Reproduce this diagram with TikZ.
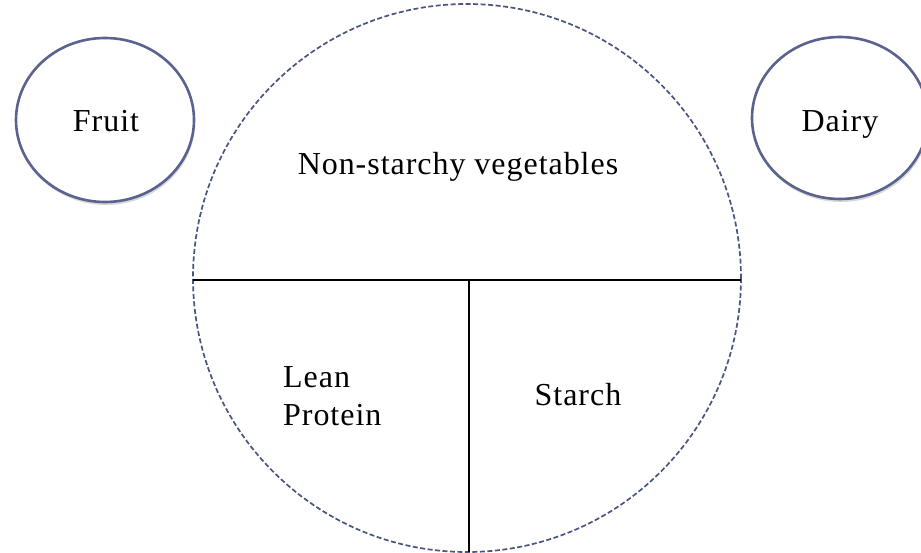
\documentclass[tikz,border=0pt]{standalone}
\usepackage{fontspec}
\setmainfont[LetterSpace=3]{Liberation Serif}
\usetikzlibrary{shadows}
\definecolor{dashblue}{HTML}{4A5580}
\definecolor{ringblue}{HTML}{5A6390}
\tikzset{
  sidecircle/.style={draw=ringblue, line width=2.6pt, fill=white,
    drop shadow={shadow xshift=1pt, shadow yshift=-3pt, opacity=0.3, fill=gray}},
  label/.style={font=\fontsize{32}{38}\selectfont, align=left, inner sep=0pt},
}
\begin{document}
\begin{tikzpicture}[x=1pt, y=-1pt]
  \clip (0,0) rectangle (921,553);
  \useasboundingbox (0,0) rectangle (921,553);
  \fill[white] (0,0) rectangle (921,553);
  % side circles
  \draw[sidecircle] (105,120) ellipse [x radius=89, y radius=82];
  \draw[sidecircle] (840,118) ellipse [x radius=88, y radius=81];
  \node[label, anchor=base] (fruit) at (106,132) {Fruit};
  \node[label, anchor=base] (dairy) at (840,132) {Dairy};
  % plate
  \coordinate (c) at (467,278);
  \draw[dashblue, line width=1.7pt, dash pattern=on 5pt off 2.5pt] (c) circle [radius=274];
  \coordinate (hl) at (193,280);
  \coordinate (hr) at (741,280);
  \coordinate (vt) at (469,280);
  \coordinate (vb) at (469,552);
  \draw[black, line width=1.8pt] (hl) -- (hr);
  \draw[black, line width=1.8pt] (vt) -- (vb);
  \node[label, anchor=base] (veg) at (458,175) {Non-starchy vegetables};
  \node[label, anchor=base west] (protein) at (283,425) {Lean\\Protein};
  \node[label, anchor=base] (starch) at (578,405) {Starch};
\end{tikzpicture}
\end{document}
